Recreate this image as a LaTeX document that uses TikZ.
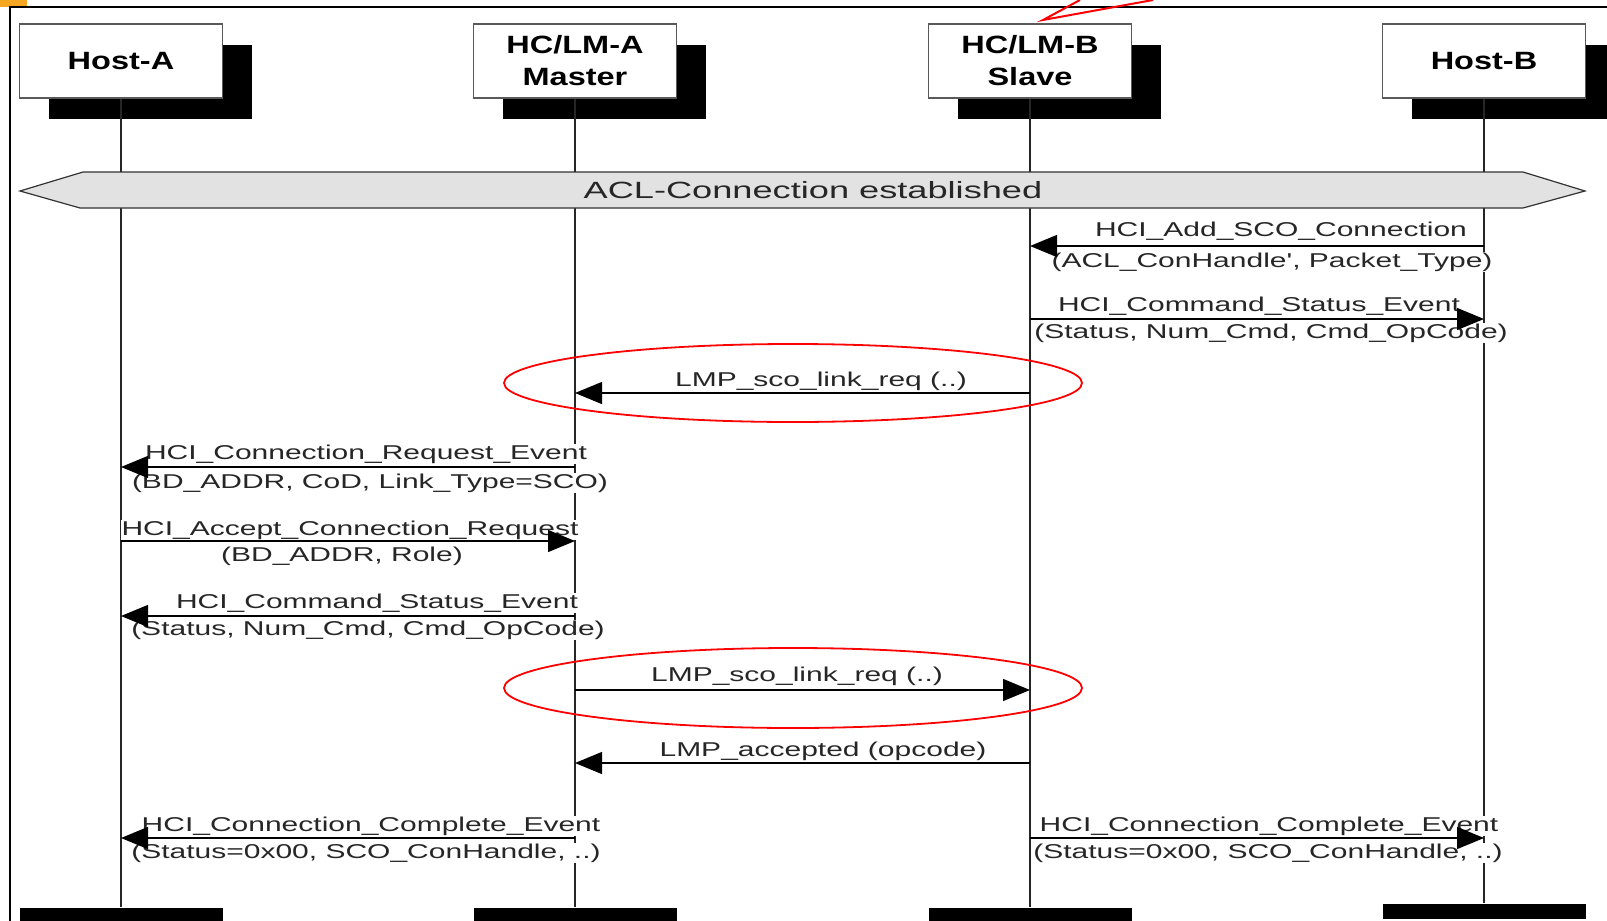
\documentclass[tikz,border=0pt]{standalone}
\usepackage{fontspec}
\setmainfont{Liberation Sans}
\newfontfamily\hdrfont[FakeStretch=1.3]{Liberation Sans}
\newfontfamily\msgfont[FakeStretch=1.5]{Liberation Sans}
\newfontfamily\bandfont[FakeStretch=1.54]{Liberation Sans}
\usetikzlibrary{arrows.meta,shadows}
\definecolor{taborange}{RGB}{245,166,35}
\definecolor{bandgray}{RGB}{226,226,226}
\tikzset{
  actor box/.style={draw=black!65,fill=white,line width=1.2pt,minimum width=203pt,minimum height=74pt,inner sep=0pt,align=center,font=\hdrfont\bfseries\fontsize{25}{32}\selectfont,general shadow={fill=black,shadow xshift=29pt,shadow yshift=-21pt}},
  end bar/.style={fill=black,minimum width=203pt,minimum height=15pt,inner sep=0pt},
  life line/.style={line width=1.4pt,black!85},
  band/.style={fill=bandgray,draw=black!80,line width=1.2pt},
  msg edge/.style={line width=1.3pt,-{Triangle[length=27pt,width=22pt]}},
  msg text/.style={fill=white,inner sep=1pt,text height=14pt,text depth=4pt,text=black!85,font=\msgfont\fontsize{20}{24}\selectfont},
  sco ring/.style={red,line width=1.8pt},
}

\begin{document}
\begin{tikzpicture}[x=1pt,y=-1pt]
  \useasboundingbox (0,0) rectangle (1607,921);
  % frame and callout
  \fill[taborange] (0,0) rectangle (27,7);
  \draw[line width=2pt] (10,921) -- (10,7) -- (1607,7);
  \draw[red,line width=2pt] (1080,0) -- (1043,20) -- (1153,0);

  % actors
  \node[actor box] (hosta) at (121,61) {Host-A};
  \node[actor box] (hcla) at (575,61) {HC/LM-A\\Master};
  \node[actor box] (hclb) at (1030,61) {HC/LM-B\\Slave};
  \node[actor box] (hostb) at (1484,61) {Host-B};
  \node[end bar] (hosta-end) at (121,915) {};
  \node[end bar] (hcla-end) at (575,915) {};
  \node[end bar] (hclb-end) at (1030,915) {};
  \node[end bar] (hostb-end) at (1484,911) {};
  \foreach \who in {hosta,hcla,hclb,hostb}
    \draw[life line] (\who.south) -- (\who-end.north);

  % ACL band
  \filldraw[band] (20,191) -- (83,172) -- (1523,172) -- (1585,191) -- (1523,208) -- (80,208) -- cycle;
  \node[font=\bandfont\fontsize{23.5}{28}\selectfont,text=black!85] (acl) at (813,190) {ACL-Connection established};

  % message rows
  \coordinate (m1) at (0,246);
  \coordinate (m2) at (0,319);
  \coordinate (m3) at (0,393);
  \coordinate (m4) at (0,467);
  \coordinate (m5) at (0,541);
  \coordinate (m6) at (0,616);
  \coordinate (m7) at (0,690);
  \coordinate (m8) at (0,763);
  \coordinate (m9) at (0,838);

  \node[msg text] (addsco) at (1281,231) {HCI\_Add\_SCO\_Connection};
  \node[msg text] (addscoarg) at (1272,262) {(ACL\_ConHandle', Packet\_Type)};
  \node[msg text] (cmdb) at (1259,306) {HCI\_Command\_Status\_Event};
  \node[msg text] (cmdbarg) at (1271,333) {(Status, Num\_Cmd, Cmd\_OpCode)};
  \node[msg text] (scoreqa) at (821,381) {LMP\_sco\_link\_req (..)};
  \node[msg text] (conreq) at (366,454) {HCI\_Connection\_Request\_Event};
  \node[msg text] (conreqarg) at (370,483) {(BD\_ADDR, CoD, Link\_Type=SCO)};
  \node[msg text] (accept) at (350,530) {HCI\_Accept\_Connection\_Request};
  \node[msg text] (acceptarg) at (342,556) {(BD\_ADDR, Role)};
  \node[msg text] (cmda) at (377,603) {HCI\_Command\_Status\_Event};
  \node[msg text] (cmdaarg) at (368,630) {(Status, Num\_Cmd, Cmd\_OpCode)};
  \node[msg text] (scoreqb) at (797,676) {LMP\_sco\_link\_req (..)};
  \node[msg text] (accepted) at (823,751) {LMP\_accepted (opcode)};
  \node[msg text] (compa) at (371,826) {HCI\_Connection\_Complete\_Event};
  \node[msg text] (compaarg) at (366,853) {(Status=0x00, SCO\_ConHandle, ..)};
  \node[msg text] (compb) at (1269,826) {HCI\_Connection\_Complete\_Event};
  \node[msg text] (compbarg) at (1268,853) {(Status=0x00, SCO\_ConHandle, ..)};

  \draw[msg edge] (hostb |- m1) -- (hclb |- m1);
  \draw[msg edge] (hclb |- m2) -- (hostb |- m2);
  \draw[msg edge] (hclb |- m3) -- (hcla |- m3);
  \draw[msg edge] (hcla |- m4) -- (hosta |- m4);
  \draw[msg edge] (hosta |- m5) -- (hcla |- m5);
  \draw[msg edge] (hcla |- m6) -- (hosta |- m6);
  \draw[msg edge] (hcla |- m7) -- (hclb |- m7);
  \draw[msg edge] (hclb |- m8) -- (hcla |- m8);
  \draw[msg edge] (hcla |- m9) -- (hosta |- m9);
  \draw[msg edge] (hclb |- m9) -- (hostb |- m9);

  % highlighted LMP exchange
  \draw[sco ring] (793,383) ellipse [x radius=289pt,y radius=39pt];
  \draw[sco ring] (793,688) ellipse [x radius=289pt,y radius=40pt];
\end{tikzpicture}
\end{document}
